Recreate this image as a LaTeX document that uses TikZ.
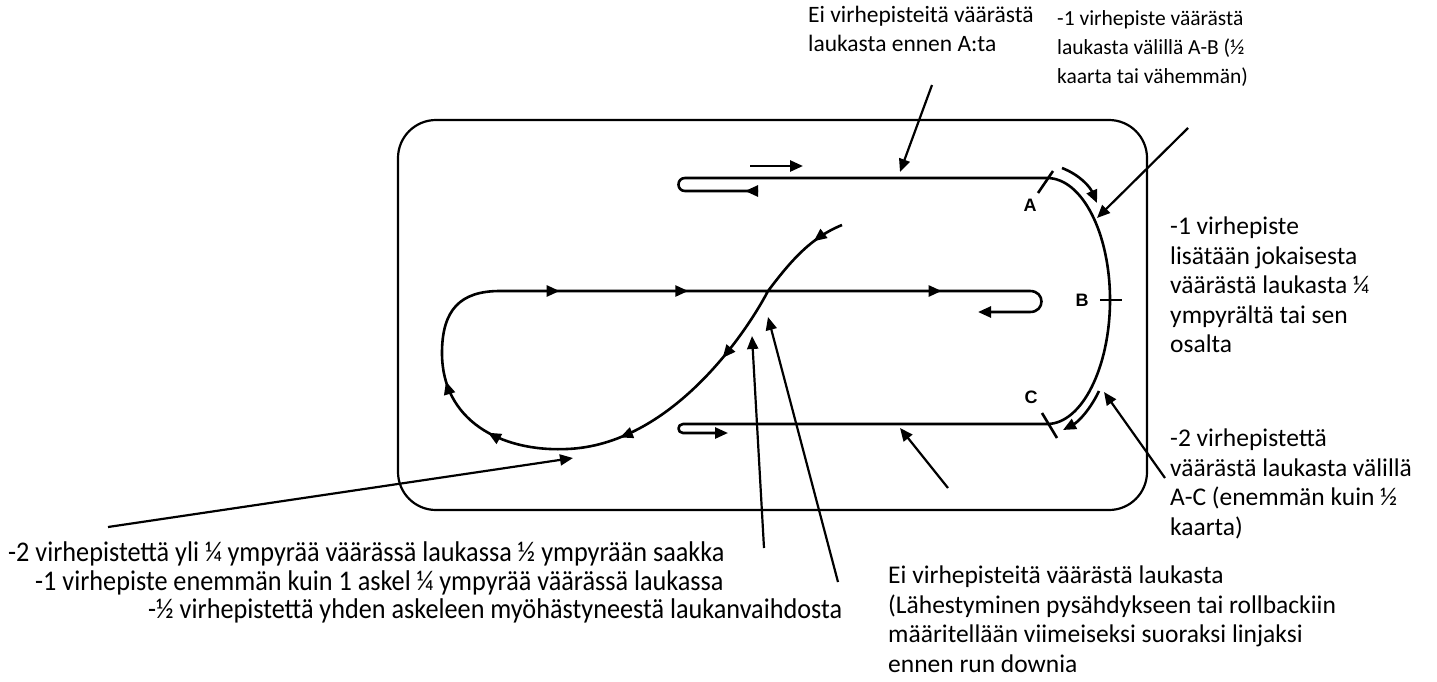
\documentclass[tikz,border=0pt]{standalone}
\usepackage{fontspec}
\setmainfont{Carlito}
\newfontfamily\narrowfont[FakeStretch=0.92]{Carlito}
\newfontfamily\markfont{Liberation Sans}
\usetikzlibrary{arrows.meta,decorations.markings}

\begin{document}
\begin{tikzpicture}[x=1pt,y=-1pt,>={Triangle[length=13pt,width=11pt]}]
	\tikzstyle{track}=[line width=2.6pt, line join=round]
	\tikzstyle{frame}=[line width=2.2pt, rounded corners=38pt]
	\tikzstyle{connect}=[line width=2.2pt, ->]
	\tikzstyle{note}=[inner sep=0pt, align=left, font=\fontsize{25.5}{29.5}\selectfont]
	\tikzstyle{top note}=[note, font=\fontsize{23.5}{29}\selectfont]
	\tikzstyle{small note}=[note, font=\fontsize{21.5}{29}\selectfont]
	\tikzstyle{narrow note}=[note, font=\narrowfont\fontsize{28.5}{29}\selectfont]
	\tikzstyle{letter}=[inner sep=0pt, font=\markfont\bfseries\fontsize{18}{18}\selectfont]
	\useasboundingbox (0,0) rectangle (1437,681);
	% arena
	\draw[frame] (398,120) rectangle (1147,510);
	% outer track with the A-C turn
	\draw[track, ->] (758,191) -- (685,191) .. controls (676.3,191) and (676.3,178) .. (685,178)
	  -- (1047,178) .. controls (1082,178) and (1110,233) .. (1110,300)
	  .. controls (1110,367) and (1082,424) .. (1047,424)
	  -- (683,424) .. controls (677,424) and (677,433) .. (683,433) -- (728,433);
	\draw[track, ->] (758,191) -- (745,191);
	\draw[track, ->] (750,166) -- (803,166);
	\draw[track, ->] (1062,168) .. controls (1080,175) and (1090,187) .. (1097,203);
	\draw[track, ->] (1099,391) .. controls (1090,410) and (1078,422) .. (1063,430);
	% ticks
	\draw[track] (1038,193) -- (1053,171);
	\draw[track] (1100,300) -- (1122,300);
	\draw[track] (1042,413) -- (1057,438);
	\node[letter] (A) at (1030,205) {A};
	\node[letter] (B) at (1082,300) {B};
	\node[letter] (C) at (1031,397) {C};
	% figure of eight
	\draw[track, ->, postaction={decorate}, decoration={markings,
	    mark=at position 0.026 with {\arrow{>}},
	    mark=at position 0.144 with {\arrow{>}},
	    mark=at position 0.248 with {\arrow{>}},
	    mark=at position 0.356 with {\arrow{>}},
	    mark=at position 0.41 with {\arrow{>}},
	    mark=at position 0.558 with {\arrow{>}},
	    mark=at position 0.66 with {\arrow{>}},
	    mark=at position 0.861 with {\arrow{>}}}]
	  (842,225) .. controls (810,238) and (790,262) .. (768,291)
	  .. controls (745,335) and (670,445) .. (567,449)
	  .. controls (500,452) and (442,420) .. (442,353)
	  .. controls (442,310) and (460,291) .. (500,291)
	  -- (1030,291) .. controls (1045.3,291) and (1045.3,312) .. (1030,312) -- (978,312);
	% notes
	\node[top note, anchor=north west] (topnote) at (808,6) {Ei virhepisteitä väärästä\\laukasta ennen A:ta};
	\node[small note, anchor=north west] (abnote) at (1057,10) {-1 virhepiste väärästä\\laukasta välillä A-B (½\\kaarta tai vähemmän)};
	\node[note, anchor=north west] (quarternote) at (1170,217) {-1 virhepiste\\lisätään jokaisesta\\väärästä laukasta ¼\\ympyrältä tai sen\\osalta};
	\node[note, anchor=north west] (acnote) at (1170,429) {-2 virhepistettä\\väärästä laukasta välillä\\A-C (enemmän kuin ½\\kaarta)};
	\node[note, anchor=north west] (runnote) at (888,566) {Ei virhepisteitä väärästä laukasta\\(Lähestyminen pysähdykseen tai rollbackiin\\määritellään viimeiseksi suoraksi linjaksi\\ennen run downia};
	\node[narrow note, anchor=west] (halfnote) at (8,554) {-2 virhepistettä yli ¼ ympyrää väärässä laukassa ½ ympyrään saakka};
	\node[narrow note, anchor=west] (stepnote) at (35,583) {-1 virhepiste enemmän kuin 1 askel ¼ ympyrää väärässä laukassa};
	\node[narrow note, anchor=west] (latenote) at (148,611) {-½ virhepistettä yhden askeleen myöhästyneestä laukanvaihdosta};
	% pointers
	\coordinate (top_tail) at (932,85);    \coordinate (top_tip) at (900,172);
	\coordinate (ab_tail) at (1188,128);   \coordinate (ab_tip) at (1097,218);
	\coordinate (ac_tail) at (1165,478);   \coordinate (ac_tip) at (1104,392);
	\coordinate (run_tail) at (948,488);   \coordinate (run_tip) at (900,428);
	\coordinate (half_tail) at (108,527);  \coordinate (half_tip) at (573,458);
	\coordinate (step_tail) at (764,548);  \coordinate (step_tip) at (752,336);
	\coordinate (late_tail) at (838,582);  \coordinate (late_tip) at (768,317);
	\path
	  (top_tail) edge [connect] (top_tip)
	  (ab_tail) edge [connect] (ab_tip)
	  (ac_tail) edge [connect] (ac_tip)
	  (run_tail) edge [connect] (run_tip)
	  (half_tail) edge [connect] (half_tip)
	  (step_tail) edge [connect] (step_tip)
	  (late_tail) edge [connect] (late_tip);
\end{tikzpicture}
\end{document}
